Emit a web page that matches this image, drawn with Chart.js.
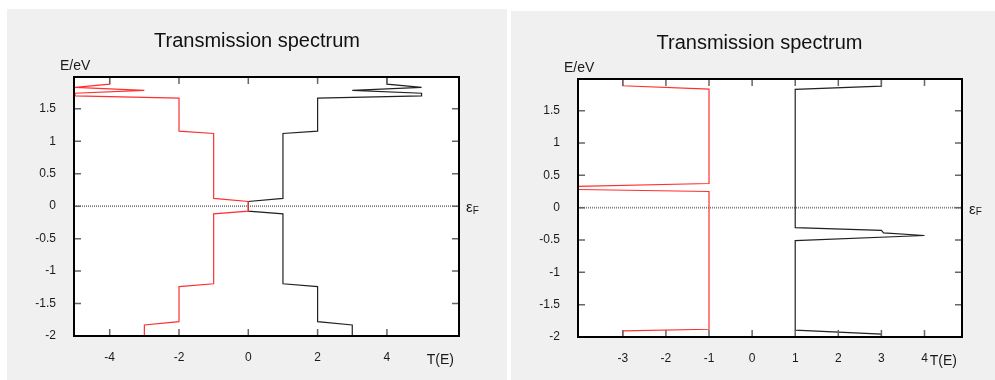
<!DOCTYPE html>
<html><head><meta charset="utf-8">
<script src="https://cdn.jsdelivr.net/npm/chart.js@4.4.0/dist/chart.umd.min.js"></script>
<style>
html,body{margin:0;padding:0;background:#fff;width:995px;height:380px;overflow:hidden;position:relative}
.panel{position:absolute;background:#f0f0f0}
canvas{position:absolute}
</style></head><body>
<div class="panel" style="left:7px;top:9px;width:500px;height:371px"></div>
<div class="panel" style="left:511px;top:11px;width:484px;height:369px"></div>
<canvas id="c1" width="500" height="371" style="left:7px;top:9px;width:500px;height:371px"></canvas>
<canvas id="c2" width="497" height="369" style="left:511px;top:11px;width:497px;height:369px"></canvas>
<script>
// ---- data (E in eV, T(E)) ----
const chartTitle = 'Transmission spectrum';
const yLabel = 'E/eV';
const xLabel = 'T(E)';

const leftEnergy = [-2, -1.83, -1.78, -1.24, -1.195, -0.118, -0.077, 0.073, 0.12, 1.12, 1.155, 1.665, 1.70, 1.74, 1.785, 1.83, 1.88, 2];
const leftBlack  = [3, 3, 2, 2, 1, 1, 0, 0, 1, 1, 2, 2, 5, 5, 3, 5, 4, 4];
const leftRed    = [-3, -3, -2, -2, -1, -1, 0, 0, -1, -1, -2, -2, -5, -5, -3, -5, -4, -4];

const rightBlackE = [-2, -1.956, -1.894, -0.51, -0.43, -0.39, -0.352, -0.31, 1.83, 1.88, 2];
const rightBlackT = [3, 3, 1, 1, 4, 3.05, 3, 1, 1, 3, 3];
const rightRedE   = [-2, -1.905, -1.88, 0.25, 0.30, 0.374, 1.833, 1.885, 2];
const rightRedT   = [-3, -3, -1, -1, -5.9, -1, -1, -3, -3];

const leftXTicks  = [-4, -2, 0, 2, 4];
const rightXTicks = [-3, -2, -1, 0, 1, 2, 3, 4];
const yTicks      = [-2, -1.5, -1, -0.5, 0, 0.5, 1, 1.5];

const FONT = '"Liberation Sans", Arial, sans-serif';

function pts(E, T){ return E.map((e,i)=>({x:T[i], y:e})); }

const framePlugin = {
  id:'frame',
  beforeDatasetsDraw(chart){
    const {ctx, chartArea:{left,right,top,bottom}} = chart;
    ctx.save(); ctx.fillStyle='#fff'; ctx.fillRect(left,top,right-left,bottom-top); ctx.restore();
  },
  afterDraw(chart, args, o){
    const {ctx, chartArea:{left,right,top,bottom}} = chart;
    const xs = chart.scales.x, ys = chart.scales.y;
    ctx.save();
    ctx.strokeStyle='#666'; ctx.lineWidth=1.5;
    const L = 7;
    ctx.beginPath();
    o.xTicks.forEach(v=>{
      const px = xs.getPixelForValue(v);
      ctx.moveTo(px,bottom); ctx.lineTo(px,bottom-L);
      ctx.moveTo(px,top); ctx.lineTo(px,top+L);
    });
    o.yTicks.forEach(v=>{
      const py = ys.getPixelForValue(v);
      ctx.moveTo(left,py); ctx.lineTo(left+L,py);
      ctx.moveTo(right,py); ctx.lineTo(right-L,py);
    });
    ctx.stroke();
    ctx.strokeStyle='#000'; ctx.lineWidth=2;
    ctx.strokeRect(left,top,right-left,bottom-top);
    ctx.fillStyle='#1a1a1a';
    ctx.font='14px '+FONT;
    ctx.textBaseline='middle';
    ctx.textAlign='left';
    ctx.fillText(yLabel, left-14, top-11);
    ctx.textAlign='right';
    ctx.fillText(xLabel, right-5, bottom+24);
    const zy = ys.getPixelForValue(0);
    ctx.textAlign='left';
    ctx.font='15px '+FONT;
    ctx.fillText('ε', right+7, zy+2);
    const w = ctx.measureText('ε').width;
    ctx.font='10px '+FONT;
    ctx.fillText('F', right+7+w, zy+5);
    ctx.restore();
  }
};

function makeChart(id, datasets, xMin, xMax, xTicks, yMin, yMax, yW, rightW, xH){
  return new Chart(document.getElementById(id), {
    type:'scatter',
    data:{datasets},
    options:{
      responsive:false, animation:false, devicePixelRatio:1,
      layout:{padding:0},
      plugins:{
        legend:{display:false}, tooltip:{enabled:false},
        title:{display:true, text:chartTitle, color:'#111',
          font:{family:FONT, size:20, weight:'normal', lineHeight:1.2},
          padding:{top:20,bottom:24}},
        frame:{xTicks, yTicks}
      },
      scales:{
        x:{type:'linear', min:xMin, max:xMax,
          grid:{display:false}, border:{display:false},
          ticks:{color:'#1a1a1a', padding:6, font:{family:FONT,size:12}, callback:v=>String(v)},
          afterBuildTicks:s=>{s.ticks = xTicks.map(v=>({value:v}));},
          afterFit:s=>{s.height = xH;}
        },
        y:{type:'linear', min:yMin, max:yMax,
          grid:{display:false}, border:{display:false},
          ticks:{color:'#1a1a1a', padding:10, font:{family:FONT,size:12}, callback:v=>String(v)},
          afterBuildTicks:s=>{s.ticks = yTicks.map(v=>({value:v}));},
          afterFit:s=>{s.width = yW;}
        },
        yRight:{type:'linear', position:'right', min:yMin, max:yMax,
          grid:{display:false}, border:{display:false},
          ticks:{display:false},
          afterFit:s=>{s.width = rightW;}
        }
      },
      elements:{point:{radius:0}, line:{tension:0}}
    },
    plugins:[framePlugin]
  });
}

function sets(redData, blackData, xMin, xMax){
  return [
    {data:redData, showLine:true, borderColor:'#ff3030', borderWidth:1.2, pointRadius:0},
    {data:blackData, showLine:true, borderColor:'#222', borderWidth:1.2, pointRadius:0},
    {data:[{x:xMin,y:0},{x:xMax,y:0}], showLine:true, borderColor:'#808080', borderWidth:1.8, borderDash:[1,1], pointRadius:0}
  ];
}

makeChart('c1', sets(pts(leftEnergy,leftRed), pts(leftEnergy,leftBlack), -5.03, 6.08),
  -5.03, 6.08, leftXTicks, -2, 1.99, 67, 48, 44);
makeChart('c2', sets(pts(rightRedE,rightRedT), pts(rightBlackE,rightBlackT), -4.04, 4.87),
  -4.04, 4.87, rightXTicks, -2, 1.99, 67, 46, 43);
</script>
</body></html>
